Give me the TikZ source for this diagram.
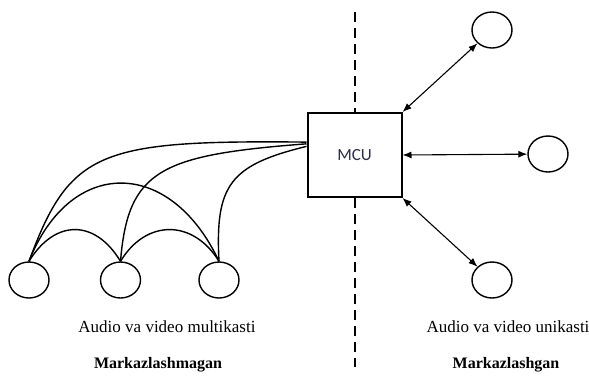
\documentclass[tikz,border=0pt]{standalone}
\usepackage{fontspec}
\setmainfont{Liberation Serif}
\newfontfamily\calib{Carlito}
\usetikzlibrary{arrows.meta,calc,shapes.geometric}
\definecolor{mcutext}{RGB}{45,45,75}
\begin{document}
\begin{tikzpicture}[x=1pt,y=-1pt,
  peer/.style={draw, ellipse, line width=1.4pt, minimum width=40pt, minimum height=36pt, inner sep=0pt},
  link/.style={line width=1.4pt},
  biarrow/.style={line width=1.1pt, {Latex[length=9pt,width=7pt]}-{Latex[length=9pt,width=7pt]}},
  divider/.style={line width=2pt, dash pattern=on 10pt off 6pt},
  label/.style={font=\fontsize{17}{20}\selectfont, inner sep=0pt},
  blabel/.style={font=\fontsize{16}{19}\selectfont\bfseries, inner sep=0pt}]
\useasboundingbox (0,0) rectangle (589,375);
\draw[white] (0,0) rectangle (589,375);
% left peers
\node[peer] (l1) at (29,280) {};
\node[peer] (l2) at (120.5,280) {};
\node[peer] (l3) at (219,280) {};
% right peers
\node[peer] (r1) at (492,30) {};
\node[peer] (r2) at (548,154) {};
\node[peer] (r3) at (492,280) {};
% MCU
\node[draw, line width=2pt, fill=white, minimum width=94pt, minimum height=84pt, inner sep=0pt,
  font=\calib\fontsize{17}{20}\selectfont, text=mcutext] (mcu) at (354.5,155) {MCU};
% divider
\coordinate (dtop) at (354.5,12);
\coordinate (dbot) at (354.5,367);
\draw[divider] (dtop) -- (mcu.north);
\draw[divider] (mcu.south) -- (dbot);
% attachment points on MCU
\coordinate (m1) at ($(mcu.north west)!0.35!(mcu.south west)$);
\coordinate (m2) at ($(mcu.north west)!0.37!(mcu.south west)$);
\coordinate (m3) at ($(mcu.north west)!0.40!(mcu.south west)$);
% mesh curves
\draw[link] (l1.north) .. controls (55,219) and (95,219) .. (l2.north);
\draw[link] (l2.north) .. controls (146,219) and (193,219) .. (l3.north);
\draw[link] (l1.north) .. controls (70,157) and (170,157) .. (l3.north);
\draw[link] (l1.north) .. controls (70,150) and (100,140) .. (m1);
\draw[link] (l2.north) .. controls (128,170) and (160,155) .. (m2);
\draw[link] (l3.north) .. controls (215,185) and (230,165) .. (m3);
% unicast arrows
\draw[biarrow] (mcu.north east) -- (r1);
\draw[biarrow] (mcu.east) -- (r2);
\draw[biarrow] (mcu.south east) -- (r3);
% labels
\node[label] (t1) at (167,327) {Audio va video multikasti};
\node[blabel] (t2) at (158,365) {Markazlashmagan};
\node[label] (t3) at (508,327) {Audio va video unikasti};
\node[blabel] (t4) at (506,365) {Markazlashgan};
\end{tikzpicture}
\end{document}
